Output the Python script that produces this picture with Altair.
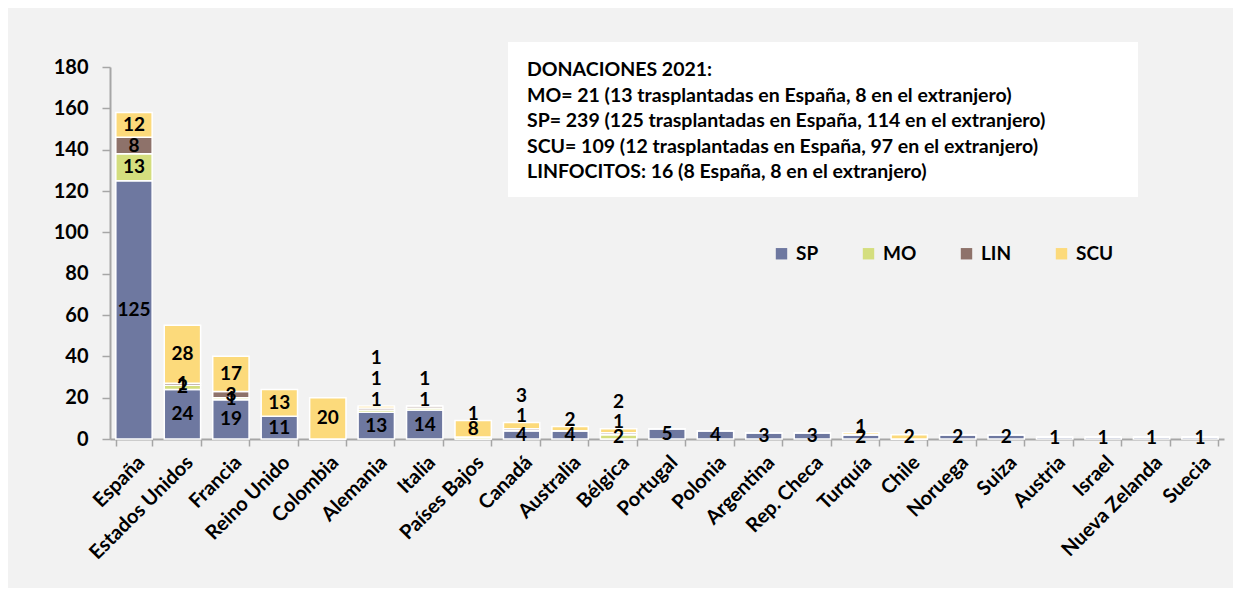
import altair as alt
import pandas as pd

countries = ["España", "Estados Unidos", "Francia", "Reino Unido", "Colombia", "Alemania",
             "Italia", "Países Bajos", "Canadá", "Australia", "Bélgica", "Portugal", "Polonia",
             "Argentina", "Rep. Checa", "Turquía", "Chile", "Noruega", "Suiza", "Austria",
             "Israel", "Nueva Zelanda", "Suecia"]
sp  = [125, 24, 19, 11, 0, 13, 14, 0, 4, 4, 0, 5, 4, 3, 3, 2, 0, 2, 2, 1, 1, 1, 1]
mo  = [13, 2, 1, 0, 0, 1, 1, 1, 0, 0, 2, 0, 0, 0, 0, 0, 0, 0, 0, 0, 0, 0, 0]
lin = [8, 1, 3, 0, 0, 1, 1, 0, 1, 0, 1, 0, 0, 0, 0, 0, 0, 0, 0, 0, 0, 0, 0]
scu = [12, 28, 17, 13, 20, 1, 0, 8, 3, 2, 2, 0, 0, 0, 0, 1, 2, 0, 0, 0, 0, 0, 0]

series = ["SP", "MO", "LIN", "SCU"]
colors = ["#6E78A0", "#D4DE7E", "#8E726A", "#FCDA7B"]

info_lines = [
    "DONACIONES 2021:",
    "MO= 21 (13 trasplantadas en España, 8 en el extranjero)",
    "SP= 239 (125 trasplantadas en España, 114 en el extranjero)",
    "SCU= 109 (12 trasplantadas en España, 97 en el extranjero)",
    "LINFOCITOS: 16 (8 España, 8 en el extranjero)",
]

rows = []
for s_i, (name, vals) in enumerate(zip(series, [sp, mo, lin, scu])):
    for c, v in zip(countries, vals):
        rows.append({"country": c, "serie": name, "order": s_i, "value": v})
df = pd.DataFrame(rows)

FONT = "Lato"

base = alt.Chart(df).transform_stack(
    stack="value", groupby=["country"], sort=[alt.SortField("order")], as_=["y0", "y1"]
).transform_calculate(mid="(datum.y0 + datum.y1) / 2")

x_enc = alt.X("country:N", sort=countries, title=None,
              scale=alt.Scale(paddingInner=0.25, paddingOuter=0.12),
              axis=alt.Axis(labelAngle=-45, labelAlign="right", labelBaseline="top",
                            labelFont=FONT, labelFontSize=20, labelFontWeight="bold",
                            labelColor="black", labelPadding=6, tickBand="extent",
                            domainColor="#A6A6A6", domainWidth=2, tickColor="#A6A6A6",
                            tickWidth=1.5, tickSize=7, grid=False))

bars = base.mark_bar(stroke="white", strokeWidth=1.5).encode(
    x=x_enc,
    y=alt.Y("y0:Q", title=None,
            scale=alt.Scale(domain=[0, 180], nice=False),
            axis=alt.Axis(values=list(range(0, 181, 20)), labelFont=FONT, labelFontSize=20,
                          labelFontWeight="bold", labelColor="black", labelPadding=14,
                          domainColor="#A6A6A6", domainWidth=2, tickColor="#A6A6A6",
                          tickWidth=1.5, tickSize=8, grid=False)),
    y2="y1:Q",
    color=alt.Color("serie:N", scale=alt.Scale(domain=series, range=colors),
                    legend=alt.Legend(title=None, orient="none", direction="horizontal",
                                      legendX=662, legendY=177, columns=4, columnPadding=40,
                                      symbolType="square", symbolSize=130, symbolStrokeWidth=0,
                                      labelFont=FONT, labelFontSize=19, labelFontWeight="bold",
                                      labelColor="black", padding=0, labelOffset=5)),
    order=alt.Order("order:Q"),
)

# small side segments of short bars get their label lifted above the bar, one above another
labels = base.transform_filter("datum.value > 0").transform_joinaggregate(
    total="sum(value)", n="count()", groupby=["country"]
).transform_window(
    rank="row_number()", groupby=["country"],
    sort=[alt.SortField("value", order="descending"), alt.SortField("order")]
).transform_calculate(
    small="datum.n > 1 && datum.total <= 16 && datum.rank > 1"
).transform_window(
    k="row_number()", groupby=["country", "small"], sort=[alt.SortField("order")]
).transform_calculate(
    ly="datum.small ? datum.total + 3 + 10 * (datum.k - 1) : datum.mid"
).mark_text(
    font=FONT, fontSize=19, fontWeight="bold", color="black", baseline="middle"
).encode(
    x=alt.X("country:N", sort=countries),
    y=alt.Y("ly:Q"),
    text=alt.Text("value:Q"),
)

box = alt.Chart(pd.DataFrame({"k": [0]})).mark_rect(color="white").encode(
    x=alt.value(398), x2=alt.value(1028), y=alt.value(-25), y2=alt.value(130)
)

info_df = pd.DataFrame({"line": info_lines, "i": list(range(len(info_lines)))})
info = alt.Chart(info_df).transform_calculate(
    py="3 + datum.i * 25.5"
).mark_text(
    font=FONT, fontSize=19.5, fontWeight="bold", color="black", align="left", baseline="middle"
).encode(
    x=alt.value(417),
    y=alt.Y("py:Q", scale=None),
    text="line:N",
)

chart = alt.layer(box, info, bars, labels).properties(
    width=1114, height=372,
    padding={"left": 102, "top": 59, "right": 9, "bottom": 149},
    autosize=alt.AutoSizeParams(type="none"),
    background="#F2F2F2",
).configure_view(stroke=None)

chart.save("out.html", embed_options={"renderer": "svg", "actions": False})
